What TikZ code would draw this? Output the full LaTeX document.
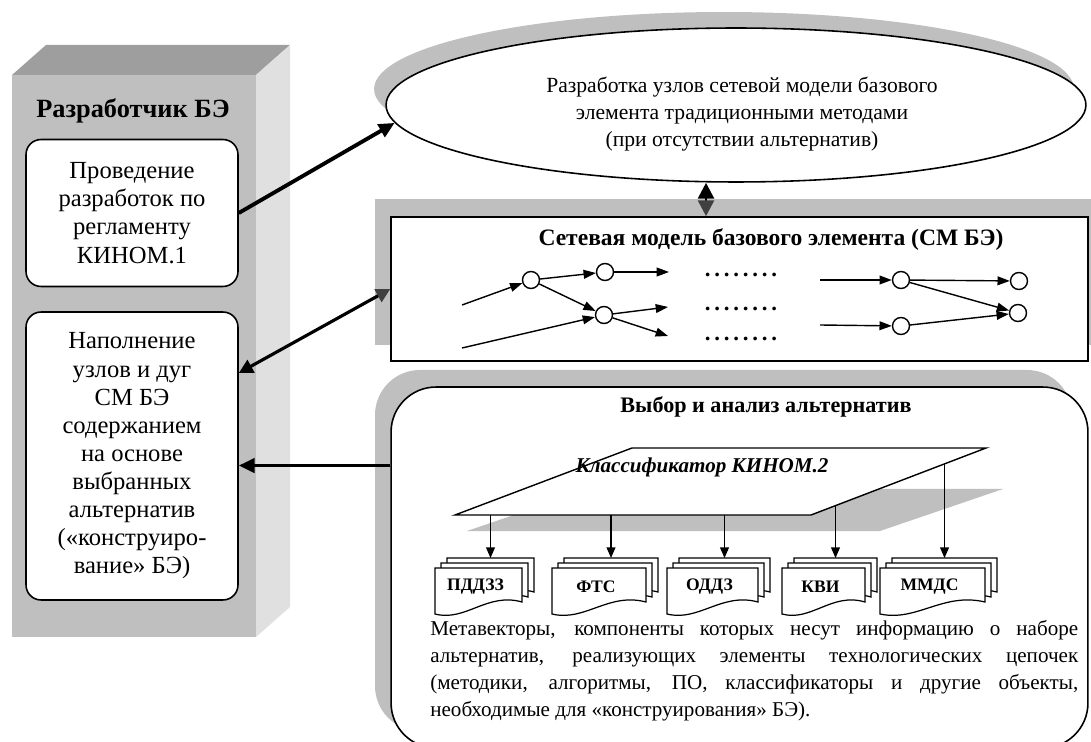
\documentclass[tikz,border=0pt]{standalone}
\usepackage{fontspec}
\setmainfont{Liberation Serif}
\usepackage{tikz}
\usetikzlibrary{
	positioning,
	shapes.geometric,
	calc,
	arrows.meta
}
\definecolor{ShadeGray}{RGB}{191,191,191}
\definecolor{TopGray}{RGB}{158,158,158}
\definecolor{SideGray}{RGB}{224,224,224}
\definecolor{TipGray}{RGB}{64,64,64}

\tikzset{
	devbox/.style={draw, line width=0.9pt, fill=white, rounded corners=0.3cm,
		minimum width=4.24cm, align=center, font=\fontsize{14}{16}\selectfont},
	bigarrow/.style={line width=2.2pt, -{Triangle[length=9pt,width=8pt]}},
	netnode/.style={circle, draw, fill=white, line width=0.8pt, minimum size=0.34cm, inner sep=0pt},
	netarrow/.style={line width=0.8pt, -{Triangle[length=7pt,width=5pt]}},
	docarrow/.style={line width=0.7pt, -{Triangle[length=6pt,width=5pt]}},
	doclabel/.style={font=\bfseries\fontsize{10}{12}\selectfont, inner sep=0pt},
	dotrow/.style={font=\bfseries\fontsize{13}{14}\selectfont, anchor=base}
}

% one sheet of a document stack: x, top y, width
\newcommand{\docsheet}[3]{%
	\filldraw[fill=white, line width=0.7pt] ({#1},{#2}) -- ({#1+#3},{#2}) -- ({#1+#3},{#2+34})
		.. controls ({#1+0.6*#3},{#2+24}) and ({#1+0.35*#3},{#2+54}) .. ({#1},{#2+46}) -- cycle;
}
% stack of three sheets: name, x, top y, width, label
\newcommand{\docstack}[5]{%
	\docsheet{#2+12}{#3-10}{#4}
	\docsheet{#2+6}{#3-5}{#4}
	\docsheet{#2}{#3}{#4}
	\node[doclabel] (#1) at ({#2+#4/2-3},{#3+19}) {#5};
	\coordinate (#1top) at ({#2+12+#4/2},{#3-10});
}

\begin{document}
\begin{tikzpicture}[x=0.02cm,y=-0.02cm]
	\useasboundingbox (0,0) rectangle (1091,742);
	\clip (0,0) rectangle (1091,742);
	
	% developer column
	\fill[ShadeGray] (12,75) rectangle (256,637);
	\fill[TopGray] (12,75) -- (46,45) -- (290,45) -- (256,75) -- cycle;
	\fill[SideGray] (256,75) -- (290,45) -- (290,607) -- (256,637) -- cycle;
	
	\node[font=\bfseries\fontsize{15}{18}\selectfont] (devtitle) at (133,111) {Разработчик БЭ};
	
	\node[devbox, minimum height=2.94cm] (dev1) at (132,213)
	{\rule{0pt}{8pt}Проведение\\разработок по\\регламенту\\КИНОМ.1};
	
	\node[devbox, minimum height=5.76cm] (dev2) at (132,456)
	{\rule{0pt}{8pt}Наполнение\\узлов и дуг\\СМ БЭ\\содержанием\\на основе\\выбранных\\альтернатив\\(«конструиро-\\вание» БЭ)};
	
	% traditional development
	\fill[ShadeGray] (724,89) ellipse [x radius=7cm, y radius=1.54cm];
	\node[
	ellipse,
	draw,
	line width=0.9pt,
	fill=white,
	minimum width=14cm,
	minimum height=3.08cm
	]
	(ell) at (736,105) {};
	\node[align=center, font=\fontsize{12.3}{15.4}\selectfont] (elltext) at (742,114)
	{Разработка узлов сетевой модели базового\\элемента традиционными методами\\(при отсутствии альтернатив)};
	
	% network model
	\fill[ShadeGray] (375,199) rectangle (1091,345);
	\node[
	draw,
	line width=0.9pt,
	fill=white,
	minimum width=13.94cm,
	minimum height=2.88cm
	]
	(net) at (739.5,289) {};
	\node[font=\bfseries\fontsize{13.4}{15}\selectfont] (nettitle) at (771,240)
	{Сетевая модель базового элемента (СМ БЭ)};
	
	\node[netnode] (n1) at (531,280) {};
	\node[netnode] (n2) at (605,272) {};
	\node[netnode] (n3) at (604,315) {};
	\node[netnode] (n4) at (901,280) {};
	\node[netnode] (n5) at (1019,281) {};
	\node[netnode] (n6) at (901,326) {};
	\node[netnode] (n7) at (1018,313) {};
	\coordinate (i1) at (462,305);
	\coordinate (i2) at (462,348);
	\coordinate (i3) at (820,280);
	\coordinate (i4) at (820,325);
	\coordinate (o1) at (669,272);
	\coordinate (o2) at (668,307);
	\coordinate (o3) at (668,336);
	
	\draw[netarrow] (i1) -- (n1);
	\draw[netarrow] (i2) -- (n3);
	\draw[netarrow] (n1) -- (n2);
	\draw[netarrow] (n1) -- (n3);
	\draw[netarrow] (n2) -- (o1);
	\draw[netarrow] (n3) -- (o2);
	\draw[netarrow] (n3) -- (o3);
	\draw[netarrow] (i3) -- (n4);
	\draw[netarrow] (i4) -- (n6);
	\draw[netarrow] (n4) -- (n5);
	\draw[netarrow] (n4) -- (n7);
	\draw[netarrow] (n6) -- (n7);
	
	\node[dotrow] (dots1) at (741,277) {.\,.\,.\,.\,.\,.\,.\,.};
	\node[dotrow] (dots2) at (741,311) {.\,.\,.\,.\,.\,.\,.\,.};
	\node[dotrow] (dots3) at (741,341) {.\,.\,.\,.\,.\,.\,.\,.};
	
	% alternatives
	\fill[ShadeGray, rounded corners=0.9cm] (375,370) rectangle (1072,731);
	\node[
	draw,
	line width=0.9pt,
	fill=white,
	rounded corners=0.9cm,
	minimum width=13.94cm,
	minimum height=7.22cm
	]
	(alt) at (739.5,567.5) {};
	\node[font=\bfseries\fontsize{12.6}{15}\selectfont] (alttitle) at (766,407)
	{Выбор и анализ альтернатив};
	
	% classifier
	\fill[ShadeGray] (467,531) -- (590,489) -- (1003,489) -- (880,531) -- cycle;
	\draw[line width=0.8pt, fill=white] (455,515) -- (632,448) -- (986,448) -- (811,515) -- cycle;
	\node[font=\bfseries\itshape\fontsize{12}{14}\selectfont] (clsf) at (702,467)
	{Классификатор КИНОМ.2};
	
	\docstack{pdd}{435}{568}{87}{ПДДЗЗ}
	\docstack{fts}{552}{568}{94}{ФТС}
	\docstack{odd}{667}{568}{91}{ОДДЗ}
	\docstack{kvi}{782}{568}{83}{КВИ}
	\docstack{mmd}{880}{568}{105}{ММДС}
	
	\coordinate (c1) at (pddtop |- 0,515);
	\coordinate (c2) at (ftstop |- 0,515);
	\coordinate (c3) at (oddtop |- 0,515);
	\coordinate (c4) at (kvitop |- 0,506);
	\coordinate (c5) at (mmdtop |- 0,464);
	\draw[docarrow] (c1) -- (pddtop);
	\draw[docarrow] (c2) -- (ftstop);
	\draw[docarrow] (c3) -- (oddtop);
	\draw[docarrow] (c4) -- (kvitop);
	\draw[docarrow] (c5) -- (mmdtop);
	
	\node[
	anchor=north west,
	inner sep=0pt,
	text width=12.96cm,
	align=justify,
	font=\fontsize{12}{15.4}\selectfont
	]
	(meta) at (430,620)
	{Метавекторы, компоненты которых несут информацию о наборе\linebreak
		альтернатив, реализующих элементы технологических цепочек\linebreak
		(методики, алгоритмы, ПО, классификаторы и другие объекты,\linebreak
		необходимые для «конструирования» БЭ).};
	
	% connectors
	\draw[bigarrow] (dev1.east) -- (ell.183);
	\draw[line width=1.6pt, {Triangle[length=9pt,width=9pt]}-{Triangle[length=9pt,width=9pt,color=TipGray]}]
	([xshift=-0.6cm]ell.south) -- ([xshift=-0.6cm]ell.south |- net.north);
	\draw[line width=1.8pt, {Triangle[length=8pt,width=8pt]}-{Triangle[length=8pt,width=8pt,color=TipGray]}]
	([yshift=1.66cm]dev2.east) -- (net.west);
	\coordinate (altout) at ([yshift=2.04cm]alt.west);
	\draw[bigarrow] (altout) -- (altout -| dev2.east);
	
\end{tikzpicture}
\end{document}
